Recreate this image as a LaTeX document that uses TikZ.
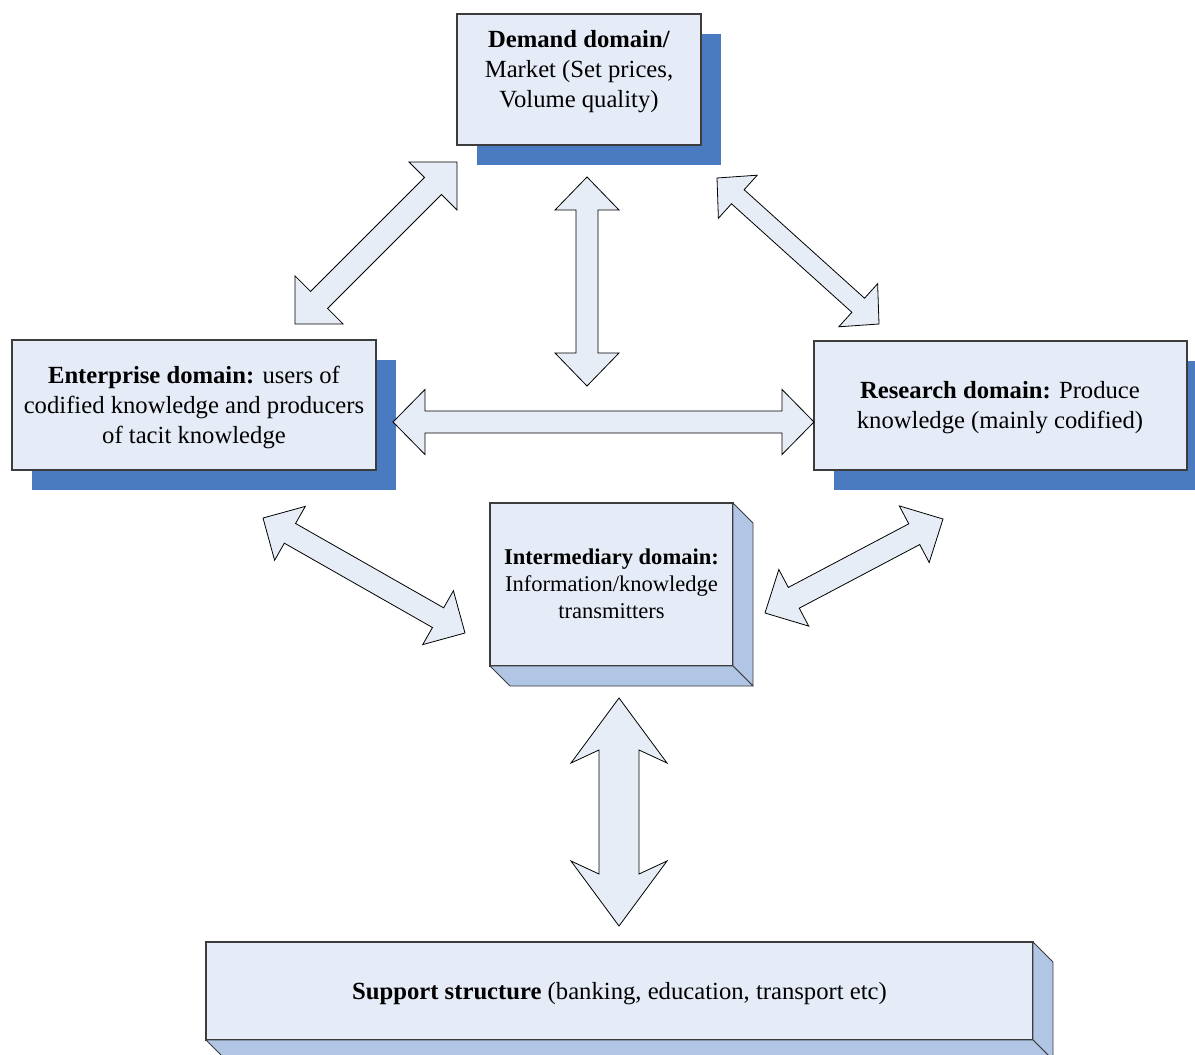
\documentclass[tikz,border=0pt]{standalone}
\usepackage{fontspec}
\setmainfont{Liberation Serif}
\usetikzlibrary{calc,shadows}

\definecolor{boxfill}{RGB}{230,236,247}
\definecolor{arrowfill}{RGB}{231,237,247}
\definecolor{boxline}{RGB}{60,60,60}
\definecolor{shadowblue}{RGB}{74,123,192}
\definecolor{sideface}{RGB}{177,198,229}

% double-headed block arrow between two named points
% #3 tip-to-barb length, #4 tip-to-shaft length, #5 head half width, #6 shaft half width
\newcommand\blockarrow[6]{%
  \draw[blockarrowstyle] let \p1=(#1), \p2=(#2),
      \n1={atan2(\y2-\y1,\x2-\x1)}, \n2={veclen(\x2-\x1,\y2-\y1)} in
    (\p1)
    -- ($(\p1)+(\n1:#3)+({\n1+90}:#5)$)
    -- ($(\p1)+(\n1:#4)+({\n1+90}:#6)$)
    -- ($(\p1)+(\n1:{(\n2)*1pt-#4})+({\n1+90}:#6)$)
    -- ($(\p1)+(\n1:{(\n2)*1pt-#3})+({\n1+90}:#5)$)
    -- (\p2)
    -- ($(\p1)+(\n1:{(\n2)*1pt-#3})+({\n1-90}:#5)$)
    -- ($(\p1)+(\n1:{(\n2)*1pt-#4})+({\n1-90}:#6)$)
    -- ($(\p1)+(\n1:#4)+({\n1-90}:#6)$)
    -- ($(\p1)+(\n1:#3)+({\n1-90}:#5)$)
    -- cycle;}

\begin{document}
\begin{tikzpicture}[x=0.75pt,y=-0.75pt,
  domainbox/.style={draw=boxline, line width=0.9pt, fill=boxfill,
    inner sep=2pt, outer sep=0pt},
  shadowed/.style={drop shadow={shadow xshift=15pt, shadow yshift=-15pt,
    fill=shadowblue, opacity=1}},
  face/.style={draw=boxline, line width=0.7pt, fill=sideface, line join=round},
  blockarrowstyle/.style={draw=black, line width=0.6pt, fill=arrowfill, line join=miter},
  labeltext/.style={align=center, font=\fontsize{18.5}{22.5}\selectfont},
  smalltext/.style={align=center, font=\fontsize{16.9}{20.25}\selectfont}]

\useasboundingbox (0,0) rectangle (1195,1055);
\clip (0,0) rectangle (1195,1055);

% domains with drop shadows
\node[domainbox, shadowed, minimum width=183pt, minimum height=98.25pt] (demand) at (579,79.5) {};
\node[labeltext] (demandtext) at (579,72) {\textbf{Demand domain/}\\Market (Set prices,\\Volume quality)};

\node[domainbox, shadowed, minimum width=273pt, minimum height=97.5pt] (enterprise) at (194,405) {};
\node[labeltext] (enterprisetext) at (194,407.5)
  {\textbf{Enterprise domain:} users of\\codified knowledge and producers\\of tacit knowledge};

\node[domainbox, shadowed, minimum width=279.75pt, minimum height=96.75pt] (research) at (1000.5,405.5) {};
\node[labeltext] (researchtext) at (1000,407.5)
  {\textbf{Research domain:} Produce\\knowledge (mainly codified)};

% raised boxes
\node[domainbox, minimum width=182.25pt, minimum height=122.25pt] (intermediary) at (611.5,584.5) {};
\node[smalltext] (intermediarytext) at (611.5,584)
  {\textbf{Intermediary domain:}\\Information/knowledge\\transmitters};
\draw[face] (intermediary.north east) -- ++(20,20) -- ($(intermediary.south east)+(20,20)$)
  -- (intermediary.south east) -- cycle;
\draw[face] (intermediary.south west) -- (intermediary.south east)
  -- ($(intermediary.south east)+(20,20)$) -- ($(intermediary.south west)+(20,20)$) -- cycle;

\node[domainbox, minimum width=620.25pt, minimum height=73.5pt] (support) at (619.5,991) {};
\node[labeltext] (supporttext) at (619.5,993.5)
  {\textbf{Support structure} (banking, education, transport etc)};
\draw[face] (support.north east) -- ++(20,20) -- ($(support.south east)+(20,20)$)
  -- (support.south east) -- cycle;
\draw[face] (support.south west) -- (support.south east)
  -- ($(support.south east)+(20,20)$) -- ($(support.south west)+(20,20)$) -- cycle;

% arrow ends
\coordinate (de-a) at (295,324);  \coordinate (de-b) at (457,162);
\coordinate (dc-a) at (587,177);  \coordinate (dc-b) at (587,386);
\coordinate (dr-a) at (717,178);  \coordinate (dr-b) at (879,324);
\coordinate (er-a) at (393,422);  \coordinate (er-b) at (814,422);
\coordinate (ei-a) at (263,518);  \coordinate (ei-b) at (465,633);
\coordinate (ri-a) at (943,519);  \coordinate (ri-b) at (765,613);
\coordinate (is-a) at (619,698);  \coordinate (is-b) at (619,926);

% connecting block arrows
\blockarrow{de-a}{de-b}{25.5pt}{25.5pt}{25.5pt}{9pt}
\blockarrow{dc-a}{dc-b}{24.75pt}{24.75pt}{24pt}{8.25pt}
\blockarrow{dr-a}{dr-b}{21pt}{21pt}{21.75pt}{7.1pt}
\blockarrow{er-a}{er-b}{24pt}{24pt}{24.4pt}{8.25pt}
\blockarrow{ei-a}{ei-b}{23.25pt}{23.25pt}{23.25pt}{8.5pt}
\blockarrow{ri-a}{ri-b}{24.4pt}{24.4pt}{24pt}{8.8pt}
\blockarrow{is-a}{is-b}{48.75pt}{39pt}{36pt}{15pt}

\end{tikzpicture}
\end{document}
